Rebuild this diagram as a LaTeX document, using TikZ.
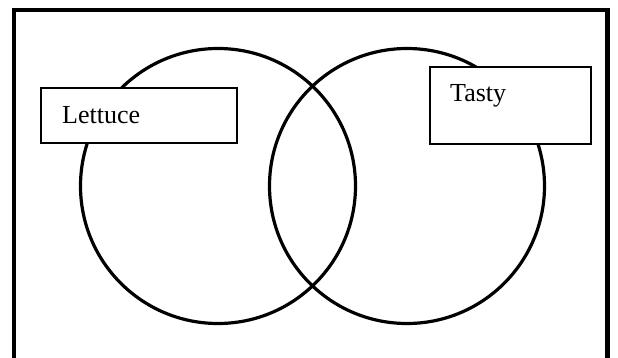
\documentclass[tikz,border=0pt]{standalone}
\usepackage{fontspec}
\setmainfont{Liberation Serif}
\begin{document}
\begin{tikzpicture}[x=1pt,y=-1pt,
  ring/.style={draw=black,line width=3.2pt},
  labelbox/.style={draw=black,fill=white,line width=1.8pt},
  labeltext/.style={inner sep=0pt,anchor=base west,font=\fontsize{26}{30}\selectfont}]
\useasboundingbox (0,0) rectangle (618,358);
% outer frame (its lower edge lies below the page)
\draw[line width=4.4pt] (14,400) -- (14,10) -- (607.5,10) -- (607.5,400);
% the two overlapping sets
\node[ring,circle,minimum size=275pt,inner sep=0pt] (left) at (218,186) {};
\node[ring,circle,minimum size=275pt,inner sep=0pt] (right) at (407,186) {};
% label boxes
\draw[labelbox] (41,88) rectangle (237,143);
\node[labeltext] (lettuce) at (62,124) {Lettuce};
\draw[labelbox] (430,67) rectangle (591,144);
\node[labeltext] (tasty) at (450,101.5) {Tasty};
\end{tikzpicture}
\end{document}
